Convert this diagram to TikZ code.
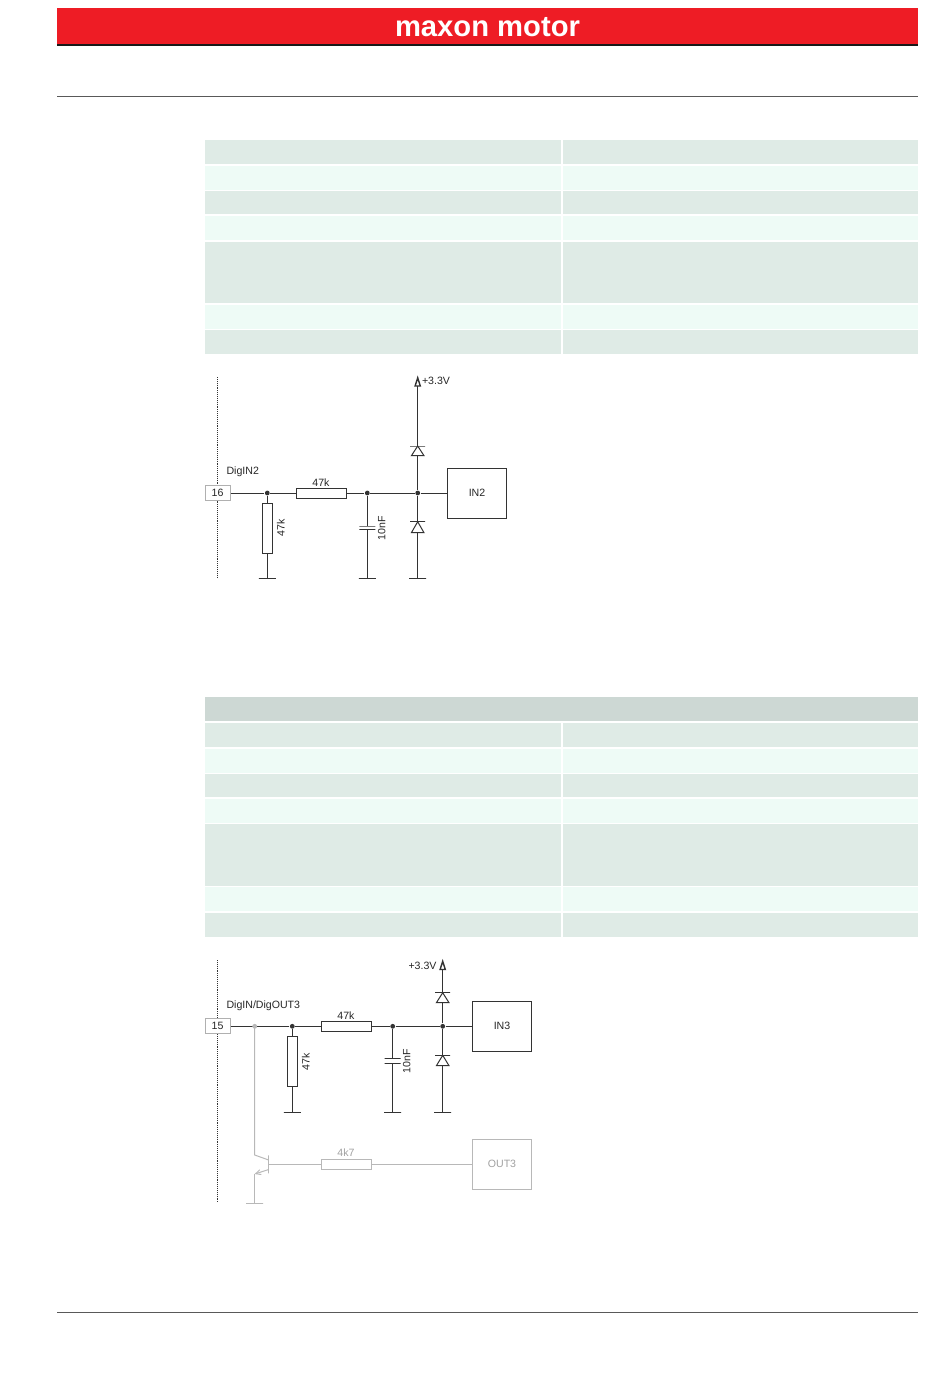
\documentclass[tikz,border=0pt]{standalone}
\usepackage{fontspec}
\setmainfont{Liberation Sans}
\usetikzlibrary{arrows.meta}
\definecolor{rowdark}{HTML}{DFEBE6}
\definecolor{rowlight}{HTML}{EEFBF6}
\definecolor{rowhead}{HTML}{CDD8D4}
\definecolor{maxonred}{HTML}{EE1C25}
\definecolor{pinline}{HTML}{B0B0B0}
\definecolor{offline}{HTML}{B8B8B8}
\definecolor{offtext}{HTML}{A0A0A0}
% diode: name, x, y of the bar, y of the base
\newcommand{\diode}[4]{
  \node (#1) [platenode,minimum width=15pt] at (#2,#3) {};
  \coordinate (#1base) at (#2,#4);
  \draw[fill=white] (#2-6.3,#4) -- (#2+6.3,#4) -- (#2,#3) -- cycle;
}
% supply arrow: name, x, y of the tip
\newcommand{\supply}[3]{
  \coordinate (#1) at (#2,#3+9);
  \draw[line width=1.4pt,fill=white] (#2-2.6,#3+9) -- (#2+2.6,#3+9) -- (#2,#3+0.8) -- cycle;
}
\begin{document}
\begin{tikzpicture}[x=1pt, y=-1pt, line width=1pt, color=black!80,
      every node/.append style={font=\fontsize{10.6}{12}\selectfont,text=black!85},
      pinbox/.style={draw=pinline,fill=white,minimum width=25pt,minimum height=15pt,inner sep=0pt},
      resH/.style={draw,fill=white,minimum width=50pt,minimum height=10pt,inner sep=0pt},
      resV/.style={draw,fill=white,minimum width=10pt,minimum height=50pt,inner sep=0pt},
      block/.style={draw,minimum width=59.5pt,minimum height=50pt,inner sep=0pt},
      dotnode/.style={circle,fill,inner sep=0pt,minimum size=4.8pt},
      platenode/.style={draw,rectangle,minimum width=16pt,minimum height=0pt,inner sep=0pt,outer sep=0pt},
      gndnode/.style={platenode,minimum width=17pt},
      labelnode/.style={inner sep=0pt},
      off/.style={color=offline},
      offnode/.style={text=offtext}]
  \useasboundingbox (0,0) rectangle (950,1379);

  % page head and foot
  \fill[maxonred] (57,8) rectangle (918,44.5);
  \fill[black!90] (57,44) rectangle (918,45.6);
  \node (brand) at (487.5,36) [anchor=base,inner sep=0pt,font=\fontsize{29.2}{30}\selectfont\bfseries,text=white] {maxon motor};
  \draw[black!65,line width=0.8pt] (57,96.7) -- (918,96.7);
  \draw[black!65,line width=0.8pt] (57,1312) -- (918,1312);

  % upper table
  \foreach \top/\bot/\col in {140/164/rowdark,165.7/190/rowlight,191/214.4/rowdark,216/240/rowlight,
                              241.6/303/rowdark,304.6/329.2/rowlight,330/354/rowdark} {
    \fill[\col] (205,\top) rectangle (561,\bot);
    \fill[\col] (562.6,\top) rectangle (918,\bot);
  }
  % lower table
  \fill[rowhead] (205,697) rectangle (918,721.4);
  \foreach \top/\bot/\col in {723/747/rowdark,748.6/772.6/rowlight,774/797/rowdark,798.8/822.6/rowlight,
                              824.2/885.6/rowdark,887.2/911.4/rowlight,912.8/936.6/rowdark} {
    \fill[\col] (205,\top) rectangle (561,\bot);
    \fill[\col] (562.6,\top) rectangle (918,\bot);
  }

  % DigIN2
  \draw[densely dotted,line width=0.9pt] (217.7,377) -- (217.7,578);
  \node (pinA) [pinbox] at (217.5,493) {16};
  \node (dotA1) [dotnode] at (267.3,493) {};
  \node (resA1) [resH] at (321.7,493) {};
  \node (dotA2) [dotnode] at (367.3,493) {};
  \node (dotA3) [dotnode] at (417.7,493) {};
  \node (blockA) [block] at (477,493) {IN2};
  \node (resA2) [resV] at (267.3,528.7) {};
  \node (gndA1) [gndnode] at (267.3,578.3) {};
  \node (capA1) [platenode] at (367.3,526) {};
  \node (capA2) [platenode] at (367.3,529.8) {};
  \node (gndA2) [gndnode] at (367.3,578.3) {};
  \node (gndA3) [gndnode] at (417.7,578.3) {};
  \diode{diodeA1}{417.7}{446}{455.7}
  \diode{diodeA2}{417.7}{521.7}{532.7}
  \supply{vccA}{417.7}{377}
  \draw (pinA) -- (dotA1) -- (resA1) -- (dotA2) -- (dotA3) -- (blockA);
  \draw (dotA1) -- (resA2) -- (gndA1);
  \draw (dotA2) -- (capA1) (capA2) -- (gndA2);
  \draw (vccA) -- (diodeA1) (diodeA1base) -- (dotA3) -- (diodeA2) (diodeA2base) -- (gndA3);
  \node (lblA1) [labelnode,anchor=west] at (226,471.3) {DigIN2};
  \node (lblA2) [labelnode] at (321,482.3) {47k};
  \node (lblA3) [labelnode,rotate=90] at (280.7,528) {47k};
  \node (lblA4) [labelnode,rotate=90] at (381.7,528) {10nF};
  \node (lblA5) [labelnode,anchor=west] at (421.5,381) {+3.3V};

  % DigIN/DigOUT3
  \draw[densely dotted,line width=0.9pt] (217.7,960) -- (217.7,1203);
  \node (pinB) [pinbox] at (217.5,1026.3) {15};
  \node (dotB1) [dotnode] at (292.3,1026.3) {};
  \node (resB1) [resH] at (346.3,1026.3) {};
  \node (dotB2) [dotnode] at (392.7,1026.3) {};
  \node (dotB3) [dotnode] at (442.7,1026.3) {};
  \node (blockB) [block] at (502,1026.3) {IN3};
  \node (resB2) [resV] at (292.3,1061.5) {};
  \node (gndB1) [gndnode] at (292.3,1112) {};
  \node (capB1) [platenode] at (392.7,1058.7) {};
  \node (capB2) [platenode] at (392.7,1063) {};
  \node (gndB2) [gndnode] at (392.7,1112) {};
  \node (gndB3) [gndnode] at (442.7,1112) {};
  \diode{diodeB1}{442.7}{992.7}{1002.7}
  \diode{diodeB2}{442.7}{1055.3}{1065.7}
  \supply{vccB}{442.7}{960.5}
  % output stage, greyed
  \begin{scope}[off]
    \node (resB3) [resH] at (346.3,1164.3) {};
    \node (blockC) [block,offnode] at (502,1164.3) {OUT3};
    \node (gndB0) [gndnode] at (254.7,1203.3) {};
    \node (baseT) [platenode,minimum width=0pt,minimum height=18pt] at (268.7,1164.3) {};
    \coordinate (collT) at (254.7,1155);
    \coordinate (emitT) at (254.7,1174);
    \coordinate (tapB) at (254.7,1026.3);
    \draw (tapB) -- (collT) -- (268.7,1160);
    \draw[-{Straight Barb[length=5pt,width=5pt]}] (268.7,1169.5) -- (emitT);
    \draw (emitT) -- (gndB0);
    \draw (baseT) -- (resB3) -- (blockC);
    \node (lblB6) [labelnode,offnode] at (346,1153) {4k7};
  \end{scope}
  \draw (pinB) -- (dotB1) -- (resB1) -- (dotB2) -- (dotB3) -- (blockB);
  \draw (dotB1) -- (resB2) -- (gndB1);
  \draw (dotB2) -- (capB1) (capB2) -- (gndB2);
  \draw (vccB) -- (diodeB1) (diodeB1base) -- (dotB3) -- (diodeB2) (diodeB2base) -- (gndB3);
  \node (dotB0) [dotnode,color=offline] at (tapB) {};
  \node (lblB1) [labelnode,anchor=west] at (226,1005.7) {DigIN/DigOUT3};
  \node (lblB2) [labelnode] at (346,1015.5) {47k};
  \node (lblB3) [labelnode,rotate=90] at (305.7,1061.5) {47k};
  \node (lblB4) [labelnode,rotate=90] at (406.7,1061) {10nF};
  \node (lblB5) [labelnode,anchor=east] at (437,965.5) {+3.3V};
\end{tikzpicture}
\end{document}
